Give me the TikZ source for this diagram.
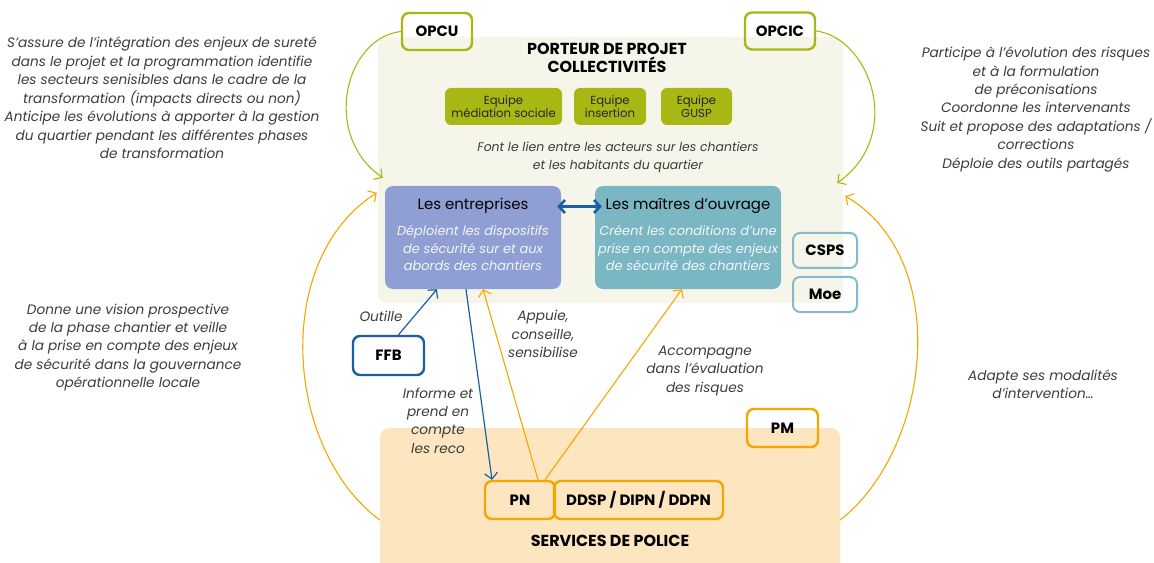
\documentclass[tikz,border=0pt]{standalone}
\usepackage{fontspec}
\setmainfont{Poppins}
\usetikzlibrary{arrows.meta}
\definecolor{vert}{HTML}{A8B713}
\definecolor{creme}{HTML}{F5F5EA}
\definecolor{peche}{HTML}{FDE5C0}
\definecolor{lavande}{HTML}{909FD3}
\definecolor{canard}{HTML}{7BB6C3}
\definecolor{bleu}{HTML}{1A5EA8}
\definecolor{orange}{HTML}{F5A600}
\definecolor{turquoise}{HTML}{84BBCB}
\definecolor{gris}{HTML}{3C3C3C}
\begin{document}
\begin{tikzpicture}
		[x=1bp,y=-1bp,
		band/.style={rounded corners=9bp,inner sep=0pt},
		tag/.style={draw,line width=2.4bp,rounded corners=7bp,minimum height=37bp,inner sep=0pt,font=\fontsize{15}{17}\selectfont\bfseries},
		equipe/.style={fill=vert,rounded corners=6bp,minimum height=37bp,inner sep=0pt,align=center,text=black!85,font=\fontsize{11.7}{13.5}\selectfont},
		acteur/.style={rounded corners=8bp,minimum height=103bp,inner sep=0pt},
		titre/.style={align=center,inner sep=0pt,font=\fontsize{16}{18.5}\selectfont\bfseries},
		note/.style={align=center,text=gris,inner sep=0pt,font=\fontsize{13.7}{18.5}\selectfont\itshape},
		>={Straight Barb[length=6bp,width=13bp]}]
		\useasboundingbox (0,0) rectangle (1154,563);
		% fonds
		\node[band,name=porteur,fill=creme,minimum width=465bp,minimum height=266bp]at(610.5,170){};
		\node[band,name=police,fill=peche,minimum width=460bp,minimum height=150bp]at(610,503){};
		\node[titre,name=porteurtitre]at(607,58){PORTEUR DE PROJET\\COLLECTIVITÉS};
		\node[titre,name=policetitre]at(610,541){SERVICES DE POLICE};
		% equipes
		\node[equipe,name=mediation,minimum width=117bp]at(503.5,106.5){Equipe\\médiation sociale};
		\node[equipe,name=insertion,minimum width=72bp]at(610,106.5){Equipe\\insertion};
		\node[equipe,name=gusp,minimum width=71bp]at(696.5,106.5){Equipe\\GUSP};
		\node[note,name=lien,font=\fontsize{12.5}{17.5}\selectfont\itshape]at(618,157.5){Font le lien entre les acteurs sur les chantiers\\et les habitants du quartier};
		% acteurs
		\node[acteur,name=ent,fill=lavande,minimum width=176bp]at(473,237.5){};
		\node[acteur,name=mo,fill=canard,minimum width=186bp]at(688,237.5){};
		\node[name=enttitre,inner sep=0pt,font=\fontsize{15}{18}\selectfont]at(473,206){Les entreprises};
		\node[name=motitre,inner sep=0pt,font=\fontsize{15}{18}\selectfont]at(688,206){Les maîtres d’ouvrage};
		\node[note,name=enttexte,text=white!90!lavande,font=\fontsize{13}{18}\selectfont\itshape]at(473,248){Déploient les dispositifs\\de sécurité sur et aux\\abords des chantiers};
		\node[note,name=motexte,text=white!90!canard,font=\fontsize{13}{18}\selectfont\itshape]at(688,248){Créent les conditions d’une\\prise en compte des enjeux\\de sécurité des chantiers};
		% etiquettes
		\node[tag,name=opcu,vert,text=black,minimum width=70bp]at(437,31.5){OPCU};
		\node[tag,name=opcic,vert,text=black,minimum width=70bp]at(780,31){OPCIC};
		\node[tag,name=csps,turquoise,text=black,line width=2bp,minimum width=64bp,minimum height=35bp]at(825,250.5){CSPS};
		\node[tag,name=moe,turquoise,text=black,line width=2bp,minimum width=64bp,minimum height=35bp]at(825,294.5){Moe};
		\node[tag,name=ffb,bleu,text=black,minimum width=71bp,minimum height=39bp]at(388.5,355.5){FFB};
		\node[tag,name=pm,orange,text=black,minimum width=71bp,minimum height=38bp]at(782.5,428){PM};
		\node[tag,name=pn,orange,text=black,minimum width=70bp,minimum height=38bp]at(520,500){PN};
		\node[tag,name=ddsp,orange,text=black,minimum width=169bp,minimum height=38bp]at(638.5,500){DDSP / DIPN / DDPN};
		% textes
		\node[note,name=opcutexte]at(162,98){S’assure de l’intégration des enjeux de sureté\\dans le projet et la programmation identifie\\les secteurs senisibles dans le cadre de la\\transformation (impacts directs ou non)\\Anticipe les évolutions à apporter à la gestion\\du quartier pendant les différentes phases\\de transformation};
		\node[note,name=opcictexte]at(1036,109.5){Participe à l’évolution des risques\\et à la formulation\\de préconisations\\Coordonne les intervenants\\Suit et propose des adaptations /\\corrections\\Déploie des outils partagés};
		\node[note,name=pntexte]at(128,347.5){Donne une vision prospective\\de la phase chantier et veille\\à la prise en compte des enjeux\\de sécurité dans la gouvernance\\opérationnelle locale};
		\node[note,name=pmtexte]at(1043,384.5){Adapte ses modalités\\d’intervention…};
		\node[note,name=outille]at(381,316){Outille};
		\node[note,name=appuie]at(543,334){Appuie,\\conseille,\\sensibilise};
		\node[note,name=accompagne]at(705,371){Accompagne\\dans l’évaluation\\des risques};
		\node[note,name=informe]at(438,420.5){Informe et\\prend en\\compte\\les reco};
		% liens
		\draw[<->,bleu,line width=2.6bp] ([xshift=-4bp,yshift=31bp]ent.east) -- ([xshift=7bp,yshift=31bp]mo.west);
		\draw[->,bleu,line width=1.2bp] ([xshift=10bp]ffb.north) -- ([xshift=-36bp]ent.south);
		\draw[->,bleu,line width=1.2bp] ([xshift=-7bp]ent.south) -- ([xshift=-28bp]pn.north);
		\draw[->,orange,line width=1.1bp] ([xshift=18bp]pn.north) -- ([xshift=10bp]ent.south);
		\draw[->,orange,line width=1.1bp] ([xshift=25bp]pn.north) -- ([xshift=-6bp]mo.south);
		\draw[->,vert,line width=1.1bp] (opcu.west) .. controls (345,38) and (321,135) .. ([xshift=-2bp,yshift=8bp]ent.north west);
		\draw[->,vert,line width=1.1bp] (opcic.east) .. controls (870,38) and (905,135) .. ([xshift=-6bp,yshift=-13bp]porteur.east);
		\draw[->,orange,line width=1.1bp] ([yshift=-17bp]police.west) .. controls (285,450) and (271,260) .. ([xshift=-8bp,yshift=-7bp]ent.north west);
		\draw[->,orange,line width=1.1bp] ([yshift=-17bp]police.east) .. controls (930,450) and (954,260) .. ([xshift=2bp,yshift=-26bp]porteur.east);
	\end{tikzpicture}
\end{document}
